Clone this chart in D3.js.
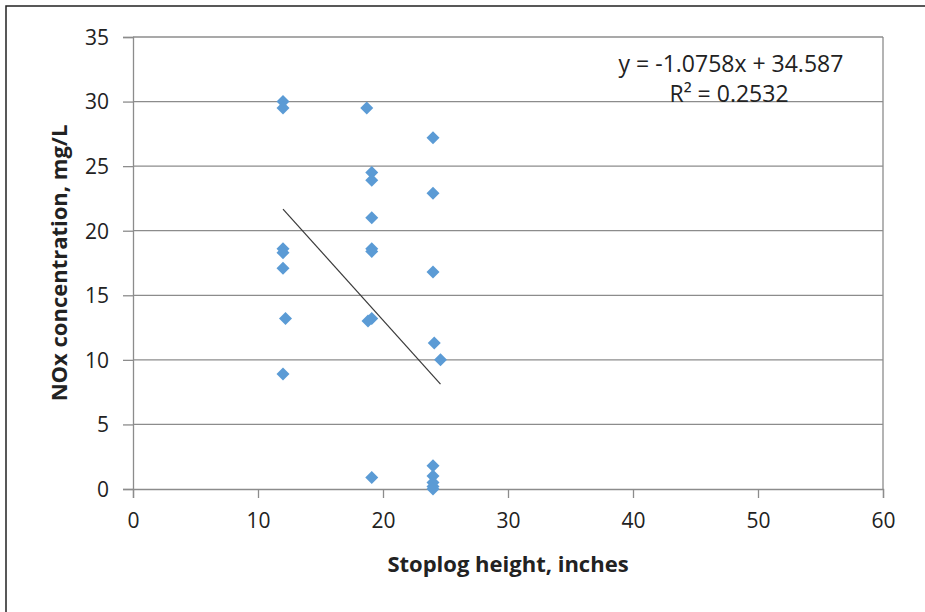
<!DOCTYPE html>
<html>
<head>
<meta charset="utf-8">
<script src="https://cdn.jsdelivr.net/npm/d3@7"></script>
<style>
  body { margin: 0; background: #fff; }
  text { font-family: "Open Sans", sans-serif; }
</style>
</head>
<body>
<script>
// stoplog height (inches) vs NOx concentration (mg/L)
var heights = [12, 12, 12, 12, 12, 12.2, 12,
  18.7,
  19.1, 19.1, 19.1, 19.1, 19.1, 19.1, 18.8, 19.1,
  24, 24, 24, 24.1, 24, 24, 24, 24, 24,
  24.6];
var nox = [30, 29.5, 18.6, 18.3, 17.1, 13.2, 8.9,
  29.5,
  24.5, 23.9, 21.0, 18.6, 18.4, 13.2, 13.0, 0.9,
  27.2, 22.9, 16.8, 11.3, 1.8, 1.0, 0.5, 0.2, 0.0,
  10.0];

var slope = -1.0758, intercept = 34.587, r2 = 0.2532;
var xTicks = [0, 10, 20, 30, 40, 50, 60];
var yTicks = [0, 5, 10, 15, 20, 25, 30, 35];

var W = 925, H = 612;
var margin = {left: 133, top: 37, right: 42, bottom: 123};

var svg = d3.select('body').append('svg')
    .attr('width', W)
    .attr('height', H);

// outer chart border (right/bottom edges fall outside the picture)
svg.append('rect')
    .attr('x', 6).attr('y', 6)
    .attr('width', 1000).attr('height', 1000)
    .attr('fill', 'none')
    .attr('stroke', '#222')
    .attr('stroke-width', 1.5);

var x = d3.scaleLinear().domain([0, 60]).range([margin.left, W - margin.right]);
var y = d3.scaleLinear().domain([0, 35]).range([H - margin.bottom, margin.top]);

// horizontal gridlines
svg.append('g')
  .selectAll('line')
  .data(yTicks.slice(1))
  .join('line')
    .attr('x1', x(0)).attr('x2', x(60))
    .attr('y1', function(d) { return y(d); })
    .attr('y2', function(d) { return y(d); })
    .attr('stroke', '#8c8c8c')
    .attr('stroke-width', 1.3);

// right edge of plot area
svg.append('line')
    .attr('x1', x(60)).attr('x2', x(60))
    .attr('y1', y(35)).attr('y2', y(0))
    .attr('stroke', '#8c8c8c')
    .attr('stroke-width', 1.3);

var xAxis = svg.append('g')
    .attr('transform', 'translate(0,' + y(0) + ')')
    .call(d3.axisBottom(x).tickValues(xTicks).tickSize(9).tickPadding(15));

var yAxis = svg.append('g')
    .attr('transform', 'translate(' + x(0) + ',0)')
    .call(d3.axisLeft(y).tickValues(yTicks).tickSize(10).tickPadding(14));

[xAxis, yAxis].forEach(function(g) {
  g.select('.domain').attr('stroke', '#8c8c8c').attr('stroke-width', 1.3);
  g.selectAll('.tick line').attr('stroke', '#8c8c8c').attr('stroke-width', 1.3);
  g.selectAll('.tick text')
      .attr('fill', '#222')
      .style('font-size', '21px')
      .style('font-family', '"Open Sans", sans-serif');
});
yAxis.selectAll('.tick text').attr('dy', '0.35em');

// trendline over the range of x values
var xExt = d3.extent(heights);
svg.append('line')
    .attr('x1', x(xExt[0])).attr('y1', y(slope * xExt[0] + intercept))
    .attr('x2', x(xExt[1])).attr('y2', y(slope * xExt[1] + intercept))
    .attr('stroke', '#3a3a3a')
    .attr('stroke-width', 1.2);

// diamond markers
var r = 6.5;
svg.append('g')
  .selectAll('path')
  .data(heights)
  .join('path')
    .attr('d', 'M0,' + (-r) + 'L' + r + ',0L0,' + r + 'L' + (-r) + ',0Z')
    .attr('transform', function(d, i) { return 'translate(' + x(d) + ',' + y(nox[i]) + ')'; })
    .attr('fill', '#5b9bd5');

// equation label
svg.append('text')
    .attr('x', 731).attr('y', 72)
    .attr('text-anchor', 'middle')
    .style('font-size', '23px')
    .attr('fill', '#222')
    .text('y = ' + slope + 'x + ' + intercept);
svg.append('text')
    .attr('x', 729).attr('y', 102)
    .attr('text-anchor', 'middle')
    .style('font-size', '23px')
    .attr('fill', '#222')
    .text('R² = ' + r2);

// axis titles
svg.append('text')
    .attr('x', (x(0) + x(60)) / 2).attr('y', 572)
    .attr('text-anchor', 'middle')
    .style('font-size', '22px')
    .style('font-weight', 'bold')
    .attr('fill', '#222')
    .text('Stoplog height, inches');

svg.append('text')
    .attr('transform', 'translate(67,' + (y(0) + y(35)) / 2 + ') rotate(-90)')
    .attr('text-anchor', 'middle')
    .style('font-size', '22px')
    .style('font-weight', 'bold')
    .attr('fill', '#222')
    .text('NOx concentration, mg/L');
</script>
</body>
</html>
